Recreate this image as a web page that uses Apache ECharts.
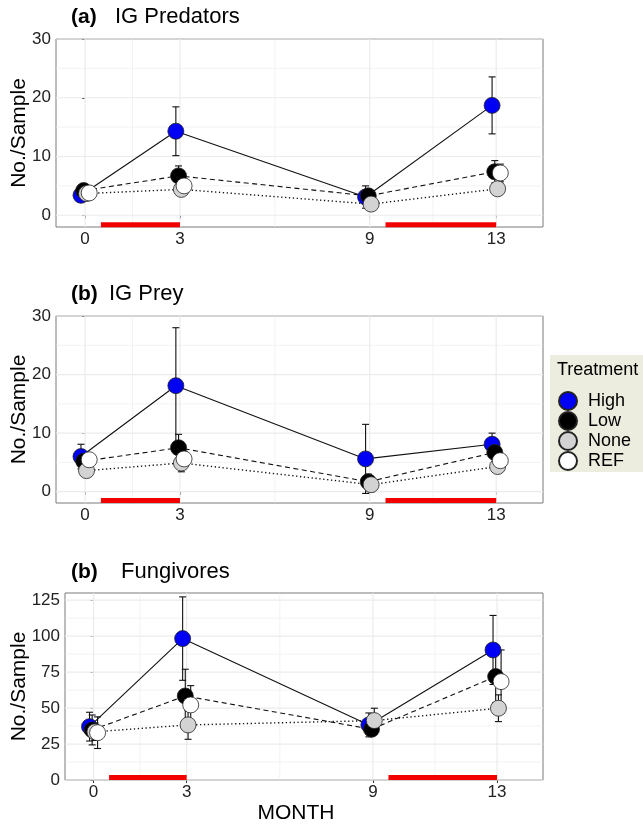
<!DOCTYPE html>
<html>
<head>
<meta charset="utf-8">
<script src="https://cdn.jsdelivr.net/npm/echarts@6/dist/echarts.min.js"></script>
<style>
  html, body { margin: 0; background: #fff; }
  #chart { width: 643px; height: 826px; }
</style>
</head>
<body>
<div id="chart"></div>
<script>
const months = [0, 3, 9, 13];
const treatments = ['High', 'Low', 'None', 'REF'];
const treatmentColors = ['#0000f5', '#000000', '#d3d3d3', '#ffffff'];
const dodge = [-0.13, -0.045, 0.045, 0.13];
const treatmentPeriods = [[0.5, 3], [9.5, 13]];

// (a) IG Predators
const predHigh = [3.4, 14.3, 3.1, 18.7];
const predHighSe = [0.5, 4.15, 1.9, 4.85];
const predLow = [4.2, 6.7, 3.3, 7.4];
const predLowSe = [0.5, 1.7, 1.0, 1.9];
const predNone = [3.7, 4.4, 1.9, 4.5];
const predNoneSe = [0.5, 1.0, 0.5, 1.0];
const predRef = [3.8, 5.0, null, 7.2];
const predRefSe = [0.5, 1.0, null, 1.5];

// (b) IG Prey
const preyHigh = [6.0, 18.1, 5.6, 8.1];
const preyHighSe = [2.1, 9.9, 5.9, 1.9];
const preyLow = [5.2, 7.5, 1.7, 6.7];
const preyLowSe = [1.0, 2.3, 1.3, 1.2];
const preyNone = [3.6, 4.9, 1.2, 4.3];
const preyNoneSe = [0.8, 1.5, 1.2, 0.9];
const preyRef = [5.45, 5.6, null, 5.3];
const preyRefSe = [1.0, 1.3, null, 1.0];

// (c) Fungivores
const fungHigh = [37.1, 98.3, 38.3, 90.4];
const fungHighSe = [10, 29, 8.3, 24];
const fungLow = [34.8, 58.4, 35.3, 71.9];
const fungLowSe = [10.4, 18.6, 4.5, 18];
const fungNone = [33.5, 38.3, 41.3, 49.9];
const fungNoneSe = [6, 10, 8.6, 9.3];
const fungRef = [32.9, 52.2, null, 68.4];
const fungRefSe = [11, 13.4, null, 22];

const panelLetters = ['(a)', '(b)', '(b)'];
const panelNames = ['IG Predators', 'IG Prey', 'Fungivores'];
const yTicksA = [0, 10, 20, 30];
const yMinorA = [5, 15, 25];
const yTicksC = [0, 25, 50, 75, 100, 125];
const yMinorC = [12.5, 37.5, 62.5, 87.5, 112.5];
const xMinor = [1.5, 6, 11];
const barLevels = [-1.6, -1.5, 1.75];

const panels = [
  { mean: [predHigh, predLow, predNone, predRef], se: [predHighSe, predLowSe, predNoneSe, predRefSe],
    yMin: -2, yMax: 30, yTicks: yTicksA, yMinor: yMinorA,
    grid: { left: 56, top: 39, width: 487, height: 188 }, titleY: 18, nameX: 115 },
  { mean: [preyHigh, preyLow, preyNone, preyRef], se: [preyHighSe, preyLowSe, preyNoneSe, preyRefSe],
    yMin: -1.93, yMax: 30, yTicks: yTicksA, yMinor: yMinorA,
    grid: { left: 56, top: 316, width: 487, height: 187 }, titleY: 295, nameX: 109 },
  { mean: [fungHigh, fungLow, fungNone, fungRef], se: [fungHighSe, fungLowSe, fungNoneSe, fungRefSe],
    yMin: 0, yMax: 130, yTicks: yTicksC, yMinor: yMinorC,
    grid: { left: 65, top: 593, width: 478, height: 187 }, titleY: 573, nameX: 121 }
];

const lineTypes = ['solid', [5, 3.5], [1.3, 2.6], null];
const font = 'Liberation Sans, Arial, sans-serif';

const chart = echarts.init(document.getElementById('chart'));

function gridLineRenderer(dir) {
  return function (params, api) {
    const cs = params.coordSys;
    const v = api.value(0);
    const w = api.value(1) ? 1.2 : 0.6;
    const style = { stroke: '#ebebeb', lineWidth: w };
    if (dir === 'v') {
      const x = api.coord([v, 0])[0];
      return { type: 'line', shape: { x1: x, y1: cs.y, x2: x, y2: cs.y + cs.height }, style };
    }
    const y = api.coord([0, v])[1];
    return { type: 'line', shape: { x1: cs.x, y1: y, x2: cs.x + cs.width, y2: y }, style };
  };
}

function renderErrorBar(params, api) {
  const x = api.value(0);
  const lo = api.coord([x, api.value(1)]);
  const hi = api.coord([x, api.value(2)]);
  const half = 3.5;
  const style = { stroke: '#111', lineWidth: 1.1 };
  return {
    type: 'group',
    children: [
      { type: 'line', shape: { x1: lo[0], y1: lo[1], x2: hi[0], y2: hi[1] }, style },
      { type: 'line', shape: { x1: lo[0] - half, y1: lo[1], x2: lo[0] + half, y2: lo[1] }, style },
      { type: 'line', shape: { x1: hi[0] - half, y1: hi[1], x2: hi[0] + half, y2: hi[1] }, style }
    ]
  };
}

function renderPeriod(level) {
  return function (params, api) {
    const a = api.coord([api.value(0), level]);
    const b = api.coord([api.value(1), level]);
    return { type: 'rect', shape: { x: a[0], y: a[1] - 2.5, width: b[0] - a[0], height: 5 }, style: { fill: '#f20000' } };
  };
}

const grids = [], xAxes = [], yAxes = [], series = [], graphics = [];

panels.forEach((p, pi) => {
  grids.push(Object.assign({
    show: true, backgroundColor: '#fff', borderColor: '#7a7a7a', borderWidth: 1,
    containLabel: false, outerBoundsMode: 'none'
  }, p.grid));
  xAxes.push({
    type: 'value', gridIndex: pi, min: -0.92, max: 14.48,
    axisLine: { show: false }, splitLine: { show: false },
    axisTick: { show: true, length: 3, lineStyle: { color: '#333' }, customValues: months },
    axisLabel: { customValues: months, fontSize: 17, color: '#222', fontFamily: font, margin: 4 },
    name: pi === 2 ? 'MONTH' : '', nameLocation: 'middle', nameGap: 23, nameMoveOverlap: false,
    nameTextStyle: { fontSize: 21, color: '#000', fontFamily: font, padding: [0, 16, 0, 0] }
  });
  yAxes.push({
    type: 'value', gridIndex: pi, min: p.yMin, max: p.yMax,
    axisLine: { show: false }, splitLine: { show: false },
    axisTick: { show: true, length: 3, lineStyle: { color: '#333' }, customValues: p.yTicks },
    axisLabel: { customValues: p.yTicks, fontSize: 17, color: '#222', fontFamily: font, margin: 5 },
    name: 'No./Sample', nameLocation: 'middle', nameRotate: 90, nameGap: p.grid.left - 30,
    nameMoveOverlap: false,
    nameTextStyle: { fontSize: 21, color: '#000', fontFamily: font }
  });

  series.push({
    type: 'custom', xAxisIndex: pi, yAxisIndex: pi, silent: true, z: 1,
    renderItem: gridLineRenderer('v'),
    data: months.map(m => [m, 1]).concat(xMinor.map(m => [m, 0]))
  });
  series.push({
    type: 'custom', xAxisIndex: pi, yAxisIndex: pi, silent: true, z: 1,
    renderItem: gridLineRenderer('h'),
    data: p.yTicks.map(v => [v, 1]).concat(p.yMinor.map(v => [v, 0]))
  });
  series.push({
    type: 'custom', xAxisIndex: pi, yAxisIndex: pi, silent: true, z: 2,
    renderItem: renderPeriod(barLevels[pi]),
    data: treatmentPeriods
  });

  treatments.forEach((t, ti) => {
    const errData = [];
    months.forEach((m, i) => {
      const v = p.mean[ti][i];
      if (v == null) return;
      const s = p.se[ti][i];
      errData.push([m + dodge[ti], v - s, v + s]);
    });
    series.push({
      type: 'custom', xAxisIndex: pi, yAxisIndex: pi, silent: true, z: 3,
      renderItem: renderErrorBar, data: errData
    });
  });

  treatments.forEach((t, ti) => {
    if (!lineTypes[ti]) return;
    series.push({
      name: t + ' line', type: 'line', xAxisIndex: pi, yAxisIndex: pi, silent: true, z: 4,
      symbol: 'none',
      lineStyle: { color: '#111', width: ti === 2 ? 1.4 : 1.1, type: lineTypes[ti] },
      data: months.map((m, i) => [m + dodge[ti], p.mean[ti][i]])
    });
  });

  treatments.forEach((t, ti) => {
    series.push({
      name: t, type: 'scatter', xAxisIndex: pi, yAxisIndex: pi, z: 5,
      symbol: 'circle', symbolSize: 16,
      itemStyle: { color: treatmentColors[ti], borderColor: '#222', borderWidth: 0.8, opacity: 1 },
      data: months.map((m, i) => [m + dodge[ti], p.mean[ti][i]]).filter(d => d[1] != null)
    });
  });

  graphics.push({
    type: 'text', left: 71, top: p.titleY - 11,
    style: { text: panelLetters[pi], font: 'bold 21px ' + font, fill: '#000' }
  });
  graphics.push({
    type: 'text', left: p.nameX, top: p.titleY - 12,
    style: { text: panelNames[pi], font: '22px ' + font, fill: '#000' }
  });
});

graphics.push({
  type: 'rect', left: 550, top: 355, z: -1,
  shape: { width: 100, height: 117 }, style: { fill: '#ececdf' }
});
graphics.push({
  type: 'text', left: 557, top: 361,
  style: { text: 'Treatment', font: '18px ' + font, fill: '#000' }
});

chart.setOption({
  animation: false,
  grid: grids,
  xAxis: xAxes,
  yAxis: yAxes,
  legend: {
    data: treatments.map(t => ({ name: t, icon: 'circle' })),
    orient: 'vertical', left: 558, top: 391, padding: 0,
    itemWidth: 18, itemHeight: 18, itemGap: 0, selectedMode: false,
    textStyle: { fontSize: 18, color: '#000', fontFamily: font, padding: [0, 0, 0, 6] }
  },
  graphic: graphics,
  series: series
});
</script>
</body>
</html>
